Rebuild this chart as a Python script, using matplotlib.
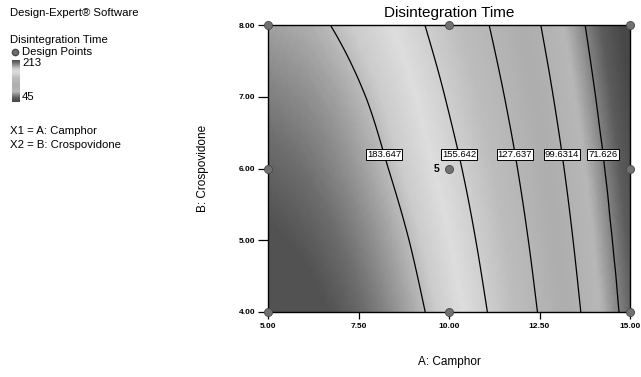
import numpy as np
import matplotlib
matplotlib.use('Agg')
import matplotlib.pyplot as plt
import matplotlib.tri as mtri
from matplotlib.colors import LinearSegmentedColormap
from matplotlib.ticker import FormatStrFormatter

plt.rcParams['font.family'] = ['Liberation Sans', 'DejaVu Sans']

# ---- response surface (rows = B, cols = A) ----
camphor = [5.0, 6.25, 7.5, 8.75, 10.0, 11.25, 12.5, 13.75, 15.0]
crospovidone = [4.0, 5.0, 6.0, 7.0, 8.0]
disint_time = [
    [221.7, 215.6, 205.6, 191.6, 173.8, 152.1, 126.4, 96.9, 63.4],   # B = 4
    [214.8, 208.9, 199.2, 185.5, 167.9, 146.4, 121.0, 91.7, 58.5],   # B = 5
    [207.2, 201.6, 192.1, 178.6, 161.3, 140.1, 114.9, 85.9, 52.9],   # B = 6
    [199.5, 194.5, 185.5, 172.0, 153.9, 132.9, 108.0, 79.2, 46.5],   # B = 7
    [191.0, 186.5, 177.5, 163.5, 145.8, 125.1, 100.4, 71.9, 39.4],   # B = 8
]
contour_levels = [71.626, 99.6314, 127.637, 155.642, 183.647]

# design points (3x3 factorial, centre point run 5 times)
design_a = [5, 10, 15, 5, 10, 15, 5, 10, 15]
design_b = [8, 8, 8, 6, 6, 6, 4, 4, 4]
center_reps = 5

z_low, z_high = 45, 213

# grayscale version of the Design-Expert colour ramp (scanned)
gray_nodes = [(0.00, 0.28), (0.09, 0.36), (0.16, 0.52), (0.24, 0.72),
              (0.39, 0.68), (0.57, 0.74), (0.73, 0.87), (0.80, 0.80),
              (0.85, 0.68), (0.90, 0.55), (0.95, 0.42), (1.00, 0.32)]
cmap = LinearSegmentedColormap.from_list('de_gray', [(p, (g, g, g)) for p, g in gray_nodes])

# ================== figure ==================
fig = plt.figure(figsize=(6.41, 3.77), dpi=100)
ax = fig.add_axes([268/641, 1-312/377, 362/641, 287/377])

A, B = np.meshgrid(camphor, crospovidone)
Z = np.array(disint_time)
triang = mtri.Triangulation(A.ravel(), B.ravel())
interp = mtri.CubicTriInterpolator(triang, Z.ravel(), kind='geom')
refiner = mtri.UniformTriRefiner(triang)
tri_f, z_f = refiner.refine_field(Z.ravel(), triinterpolator=interp, subdiv=4)

ax.tripcolor(tri_f, z_f, shading='gouraud', cmap=cmap, vmin=z_low, vmax=z_high)
cs = ax.tricontour(tri_f, z_f, levels=contour_levels, colors='k', linewidths=0.9)

# boxed labels, horizontal, near B = 6.2 like Design-Expert
lab_b = 6.2
for lev, segs in zip(cs.levels, cs.allsegs):
    pts = np.vstack(segs)
    i = np.argmin(np.abs(pts[:, 1] - lab_b))
    ax.text(pts[i, 0], lab_b, '%.6g' % lev, ha='center', va='center', fontsize=6.8,
            bbox=dict(boxstyle='square,pad=0.12', fc='white', ec='black', lw=0.7), zorder=4)

ax.scatter(design_a, design_b, s=34, c='#707070', edgecolors='#4a4a4a', linewidths=0.6,
           zorder=6, clip_on=False)
ax.annotate(str(center_reps), (10, 6), xytext=(-9, 0), textcoords='offset points',
            ha='center', va='center', fontsize=7.5, fontweight='bold')

ax.set_xlim(5, 15); ax.set_ylim(4, 8)
ax.set_xticks([5, 7.5, 10, 12.5, 15]); ax.set_yticks([4, 5, 6, 7, 8])
ax.xaxis.set_major_formatter(FormatStrFormatter('%.2f'))
ax.yaxis.set_major_formatter(FormatStrFormatter('%.2f'))
ax.tick_params(axis='x', direction='out', length=5, width=0.9, labelsize=6, pad=3)
ax.tick_params(axis='y', direction='out', length=7, width=0.9, labelsize=6, pad=2)
for lbl in ax.get_xticklabels() + ax.get_yticklabels():
    lbl.set_fontweight('bold')
for s in ax.spines.values():
    s.set_linewidth(1.0)

ax.set_title('Disintegration Time', fontsize=11, pad=6)
ax.set_xlabel('A: Camphor', fontsize=8.5, va='center')
ax.xaxis.set_label_coords(0.5, -0.174)
ax.set_ylabel('B: Crospovidone', fontsize=8.5, va='center')
ax.yaxis.set_label_coords(-0.18, 0.5)

# ---- left-hand legend block ----
fs = 8.2
fig.text(10/641, 1-13/377, 'Design-Expert® Software', fontsize=fs, va='center')
fig.text(10/641, 1-40/377, 'Disintegration Time', fontsize=fs, va='center')
fig.lines.append(plt.Line2D([15/641], [1-52/377], marker='o', ms=4.5, color='#707070',
                            mec='#4a4a4a', transform=fig.transFigure))
fig.text(22/641, 1-52/377, 'Design Points', fontsize=fs, va='center')
cax = fig.add_axes([12/641, 1-102/377, 8/641, 42/377])
cax.imshow(np.linspace(z_high, z_low, 50).reshape(-1, 1), aspect='auto', cmap=cmap,
           vmin=z_low, vmax=z_high)
cax.set_xticks([]); cax.set_yticks([])
for s in cax.spines.values():
    s.set_visible(False)
fig.text(22/641, 1-63/377, str(z_high), fontsize=fs, va='center')
fig.text(22/641, 1-97/377, str(z_low), fontsize=fs, va='center')
fig.text(10/641, 1-131/377, 'X1 = A: Camphor', fontsize=fs, va='center')
fig.text(10/641, 1-145/377, 'X2 = B: Crospovidone', fontsize=fs, va='center')

fig.savefig('out.png', dpi=100)
